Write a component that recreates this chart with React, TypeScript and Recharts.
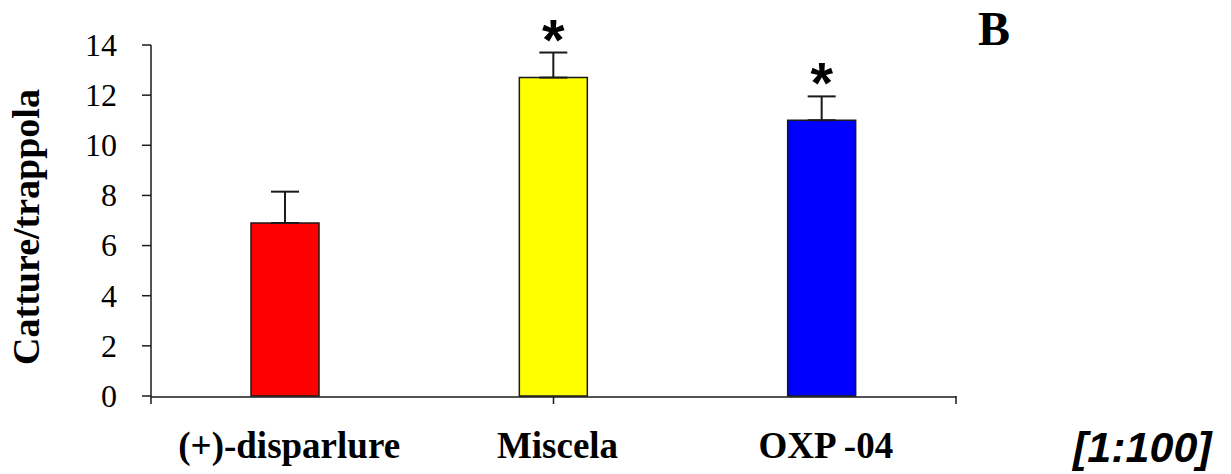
import { BarChart, Bar, XAxis, YAxis, ErrorBar, LabelList, Cell, Label } from "recharts";

const categories = ["(+)-disparlure", "Miscela", "OXP -04"];
const means = [6.9, 12.7, 11.0];
const errors = [1.25, 1.0, 0.95];
const signif = ["", "*", "*"];
const colors = ["#ff0000", "#ffff00", "#0000ff"];
const yTicks = [0, 2, 4, 6, 8, 10, 12, 14];
const edgeTicks = [0, 1, 2, 3];

const data = categories.map((name, i) => ({
  name,
  value: means[i],
  err: [0, errors[i]],
  sig: signif[i],
}));

const SERIF = "'Liberation Serif', 'Times New Roman', serif";
const AXIS = "#1a1a1a";

function CategoryTick({ x, y, payload }: any) {
  return (
    <text
      x={x + 4}
      y={y + 53}
      textAnchor="middle"
      fontFamily={SERIF}
      fontWeight="bold"
      fontSize={37}
      fill="#000"
    >
      {payload.value}
    </text>
  );
}

function ValueTick({ x, y, payload }: any) {
  return (
    <text
      x={x}
      y={y}
      dy="0.34em"
      textAnchor="end"
      fontFamily={SERIF}
      fontSize={32}
      fill="#000"
    >
      {payload.value}
    </text>
  );
}

function Star(props: any) {
  const { x, y, width, height, index } = props;
  const d = data[index];
  if (!d || !d.sig) return null;
  const pxPerUnit = height / d.value;
  const capY = y - errors[index] * pxPerUnit;
  return (
    <text
      x={x + width / 2}
      y={capY + 7}
      textAnchor="middle"
      fontFamily="'Liberation Sans', Arial, sans-serif"
      fontWeight="bold"
      fontSize={58}
      fill="#000"
    >
      {d.sig}
    </text>
  );
}

export default function App() {
  return (
    <div style={{ position: "absolute", left: 0, top: 0, width: 1231, height: 474, background: "#fff" }}>
      <BarChart
        width={1231}
        height={474}
        data={data}
        margin={{ top: 45, right: 275, bottom: 0, left: 0 }}
      >
        <XAxis
          type="number"
          domain={[0, 3]}
          ticks={edgeTicks}
          height={1}
          axisLine={false}
          tickSize={8}
          tickLine={{ stroke: AXIS, strokeWidth: 1.5 }}
          tick={() => <g />}
        />
        <XAxis
          xAxisId="cat"
          dataKey="name"
          height={77}
          tickLine={false}
          axisLine={{ stroke: AXIS, strokeWidth: 1.5 }}
          tick={<CategoryTick />}
          interval={0}
        />
        <YAxis
          width={151}
          domain={[0, 14]}
          ticks={yTicks}
          interval={0}
          tickSize={9}
          tickMargin={25}
          axisLine={{ stroke: AXIS, strokeWidth: 1.5 }}
          tickLine={{ stroke: AXIS, strokeWidth: 1.5 }}
          tick={<ValueTick />}
        >
          <Label
            content={() => (
              <text
                x={26}
                y={227}
                transform="rotate(-90,26,227)"
                textAnchor="middle"
                dominantBaseline="central"
                fontFamily={SERIF}
                fontWeight="bold"
                fontSize={38}
                fill="#000"
              >
                Catture/trappola
              </text>
            )}
          />
        </YAxis>
        <Bar
          xAxisId="cat"
          dataKey="value"
          barSize={68}
          stroke="#1a1a1a"
          strokeWidth={1.5}
          isAnimationActive={false}
        >
          {data.map((d, i) => (
            <Cell key={d.name} fill={colors[i]} />
          ))}
          <ErrorBar dataKey="err" direction="y" width={14} stroke="#1a1a1a" strokeWidth={2} />
          <LabelList dataKey="sig" content={<Star />} />
        </Bar>
      </BarChart>
      <div
        style={{
          position: "absolute",
          left: 978,
          top: 5,
          fontFamily: SERIF,
          fontWeight: "bold",
          fontSize: 48,
          lineHeight: "48px",
          color: "#000",
        }}
      >
        B
      </div>
      <div
        style={{
          position: "absolute",
          left: 1073,
          top: 422,
          fontFamily: "'Liberation Sans', Arial, sans-serif",
          fontWeight: "bold",
          fontStyle: "italic",
          fontSize: 43,
          lineHeight: "50px",
          color: "#000",
        }}
      >
        [1:100]
      </div>
    </div>
  );
}
